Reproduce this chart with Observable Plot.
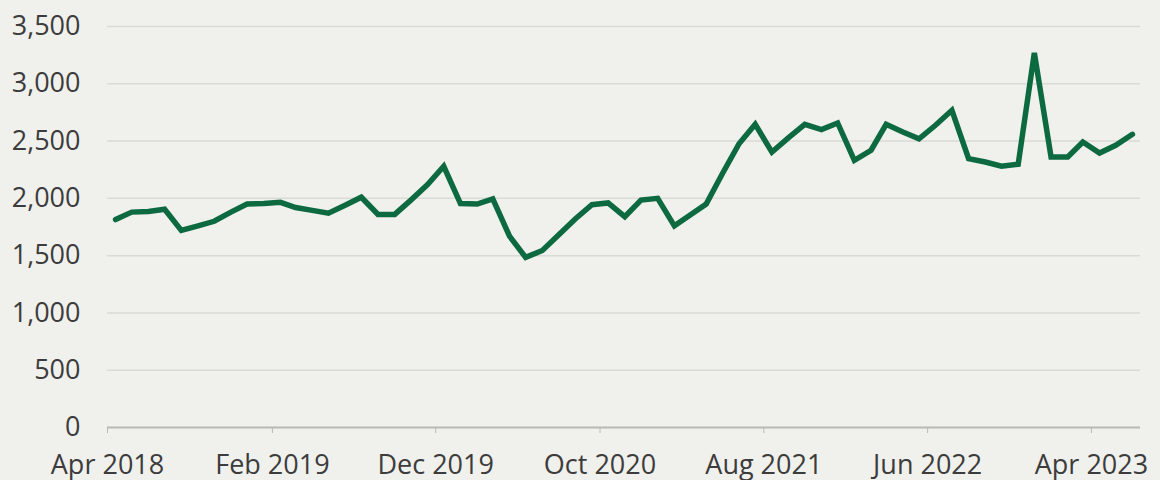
<!DOCTYPE html>
<html>
<head>
<meta charset="utf-8">
<script src="https://cdn.jsdelivr.net/npm/d3@7"></script>
<script src="https://cdn.jsdelivr.net/npm/@observablehq/plot@0.6"></script>
<style>
  html, body { margin: 0; padding: 0; background: #f0f0ec; }
  #chart svg { display: block; }
</style>
</head>
<body>
<div id="chart"></div>
<script>
// Monthly observations (mid-month), Apr 2018 – Jun 2023
const months = [
  "2018-04","2018-05","2018-06","2018-07","2018-08","2018-09","2018-10","2018-11","2018-12",
  "2019-01","2019-02","2019-03","2019-04","2019-05","2019-06","2019-07","2019-08","2019-09","2019-10","2019-11","2019-12",
  "2020-01","2020-02","2020-03","2020-04","2020-05","2020-06","2020-07","2020-08","2020-09","2020-10","2020-11","2020-12",
  "2021-01","2021-02","2021-03","2021-04","2021-05","2021-06","2021-07","2021-08","2021-09","2021-10","2021-11","2021-12",
  "2022-01","2022-02","2022-03","2022-04","2022-05","2022-06","2022-07","2022-08","2022-09","2022-10","2022-11","2022-12",
  "2023-01","2023-02","2023-03","2023-04","2023-05","2023-06"
];
const values = [
  1815, 1880, 1885, 1905, 1720, 1760, 1800, 1880, 1950,
  1955, 1965, 1920, 1895, 1870, 1940, 2010, 1860, 1860, 1985, 2120, 2280,
  1955, 1950, 1995, 1670, 1485, 1545, 1680, 1820, 1945, 1960, 1840, 1985,
  2000, 1760, 1850, 1950, 2215, 2477, 2646, 2404, 2530, 2646, 2600, 2658,
  2332, 2420, 2646, 2580, 2520, 2640, 2769, 2347, 2317, 2280, 2297, 3270,
  2361, 2361, 2492, 2396, 2463, 2559
];
const xTickMonths = ["2018-04","2019-02","2019-12","2020-10","2021-08","2022-06","2023-04"];
const yTicks = [0, 500, 1000, 1500, 2000, 2500, 3000, 3500];

const parseMonth = d3.utcParse("%Y-%m");
const data = months.map((m, i) => ({
  date: d3.utcDay.offset(parseMonth(m), 15),
  value: values[i]
}));
const xTicks = xTickMonths.map(parseMonth);

const chart = Plot.plot({
  width: 1160,
  height: 480,
  marginLeft: 107,
  marginRight: 20,
  marginTop: 26,
  marginBottom: 53,
  style: {
    background: "#f0f0ec",
    fontFamily: "'Open Sans', sans-serif",
    fontSize: "27px",
    color: "#3c3c3c",
    overflow: "visible"
  },
  x: {
    type: "utc",
    domain: [parseMonth("2018-04"), parseMonth("2023-07")]
  },
  y: {
    domain: [0, 3500]
  },
  marks: [
    Plot.gridY(yTicks.filter(d => d > 0), {stroke: "#dadad6", strokeOpacity: 1, strokeWidth: 1.5}),
    Plot.ruleY([0], {stroke: "#b8b8b4", strokeWidth: 2}),
    Plot.axisY({
      ticks: yTicks,
      tickSize: 0,
      tickPadding: 27,
      tickFormat: d3.format(","),
      label: null,
      fill: "#3c3c3c"
    }),
    Plot.axisX({
      ticks: xTicks,
      tickSize: 6,
      tickPadding: 21,
      stroke: "#b8b8b4",
      tickFormat: d3.utcFormat("%b %Y"),
      label: null,
      fill: "#3c3c3c"
    }),
    Plot.line(data, {
      x: "date",
      y: "value",
      stroke: "#0d6a40",
      strokeWidth: 5.5,
      strokeLinejoin: "miter",
      strokeMiterlimit: 3
    })
  ]
});
document.getElementById("chart").appendChild(chart);
</script>
</body>
</html>
